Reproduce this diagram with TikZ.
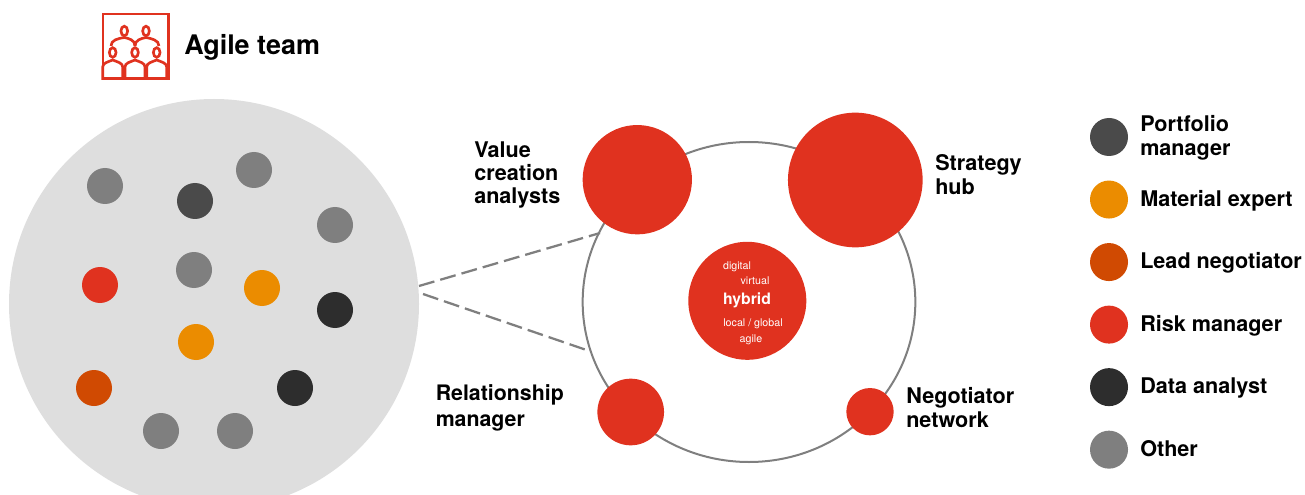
\documentclass[tikz,border=0pt]{standalone}
\usepackage{fontspec}
\setmainfont{TeX Gyre Heros}
\usepackage{tikz}
\usetikzlibrary{shapes.geometric}
\definecolor{hubred}{HTML}{E0321F}
\definecolor{ringgray}{HTML}{7F7F7F}
\definecolor{teamgray}{HTML}{DEDEDE}
\definecolor{portfolio}{HTML}{4A4A4A}
\definecolor{material}{HTML}{EB8C00}
\definecolor{leadneg}{HTML}{D04A02}
\definecolor{analyst}{HTML}{2D2D2D}
\tikzstyle{line} = [draw=ringgray, line width=1.7pt, dash pattern=on 12pt off 4.6pt]
\tikzstyle{ring} = [draw=ringgray, line width=1.5pt, ellipse, inner sep=0pt, minimum width=249.5pt, minimum height=240pt]
\tikzstyle{hub} = [circle, fill=hubred, inner sep=0pt]
\tikzstyle{dot} = [circle, inner sep=0pt, minimum size=27pt]
\tikzstyle{leg} = [circle, inner sep=0pt, minimum size=28.5pt, node distance=46.9pt]
\tikzstyle{lab} = [inner sep=0pt, align=left, font=\fontsize{16.2}{17.6}\selectfont\bfseries]
\tikzstyle{legtxt} = [lab, anchor=west, node distance=23.25pt, yshift=-0.75pt]
\tikzstyle{small} = [inner sep=0pt, text=white, font=\fontsize{8}{9}\selectfont]
\tikzstyle{icon} = [draw=hubred, line width=2pt]
\begin{document}
\begin{tikzpicture}[x=0.75pt, y=-0.75pt]
		\clip (0,0) rectangle (1305,495);
		
		% icon
		\node [icon, rectangle, inner sep=0pt, minimum width=49pt, minimum height=48.5pt] (frame) at (135.5,46.5) {};
		\foreach \x in {124.3,146} {
			\node [icon, ellipse, inner sep=0pt, minimum width=5pt, minimum height=7.2pt] at (\x,31) {};
		}
		\foreach \x in {112.7,135,156.7} {
			\node [icon, ellipse, inner sep=0pt, minimum width=5pt, minimum height=7.2pt] at (\x,52.5) {};
			\draw [icon] (\x-10,80) -- (\x-10,67) .. controls (\x-10,63) and (\x-5,62) .. (\x,60) .. controls (\x+5,62) and (\x+10,63) .. (\x+10,67) -- (\x+10,80);
		}
		\draw [icon] (111,46) .. controls (111,40) and (118,38.5) .. (124.3,37.5) .. controls (129,38.5) and (135,40) .. (135,46);
		\draw [icon] (135,46) .. controls (135,40) and (141,38.5) .. (146,37.5) .. controls (151,38.5) and (159,40) .. (159,46);
		\node [lab, anchor=base west, font=\fontsize{20.2}{22}\selectfont\bfseries] (title) at (184,54.5) {Agile team};
		
		% team
		\node [circle, fill=teamgray, inner sep=0pt, minimum size=307.5pt] (team) at (214,304) {};
		\node [dot, fill=ringgray] (d1) at (105,186) {};
		\node [dot, fill=portfolio] (d2) at (195,201) {};
		\node [dot, fill=ringgray] (d3) at (254,170) {};
		\node [dot, fill=ringgray] (d4) at (335,225) {};
		\node [dot, fill=hubred] (d5) at (100,285) {};
		\node [dot, fill=ringgray] (d6) at (194,270) {};
		\node [dot, fill=material] (d7) at (262,288) {};
		\node [dot, fill=analyst] (d8) at (335,310) {};
		\node [dot, fill=material] (d9) at (196,342) {};
		\node [dot, fill=leadneg] (d10) at (94,388) {};
		\node [dot, fill=analyst] (d11) at (295,388) {};
		\node [dot, fill=ringgray] (d12) at (161,431) {};
		\node [dot, fill=ringgray] (d13) at (235,431) {};
		
		% hubs
		\node [ring] (ring) at (749,302) {};
		\coordinate (zoom1) at (600,233);
		\coordinate (zoom2) at (585,349.5);
		\coordinate (team1) at (419,286);
		\coordinate (team2) at (423,294);
		\path [line] (team1) to (zoom1);
		\path [line] (team2) to (zoom2);
		
		\node [hub, minimum size=82pt] (value) at (637.3,179.7) {};
		\node [hub, minimum size=101pt] (strategy) at (855.3,180) {};
		\node [hub, minimum size=88.5pt] (hybrid) at (747.3,300.8) {};
		\node [hub, minimum size=50pt] (relation) at (630.7,412) {};
		\node [hub, minimum size=35.5pt] (negot) at (870,411.7) {};
		
		\node [lab, anchor=west] (value_l) at (474,175) {Value\\creation\\analysts};
		\node [lab, anchor=west, font=\fontsize{16.2}{18}\selectfont\bfseries] (strategy_l) at (935,175) {Strategy\\hub};
		\node [lab, anchor=west, font=\fontsize{16}{20}\selectfont\bfseries] (relation_l) at (435.5,408) {Relationship\\manager};
		\node [lab, anchor=west, font=\fontsize{16.2}{18}\selectfont\bfseries] (negot_l) at (906,408) {Negotiator\\network};
		
		\node [small] (s1) at (737,267) {digital};
		\node [small] (s2) at (755,281) {virtual};
		\node [small, font=\fontsize{11.8}{13}\selectfont\bfseries] (s3) at (747,300.5) {hybrid};
		\node [small] (s4) at (753,323.5) {local / global};
		\node [small] (s5) at (751,339.5) {agile};
		
		% legend
		\node [leg, fill=portfolio] (leg_1) at (1109,137) {};
		\node [leg, fill=material, below of = leg_1] (leg_2) {};
		\node [leg, fill=leadneg, below of = leg_2] (leg_3) {};
		\node [leg, fill=hubred, below of = leg_3] (leg_4) {};
		\node [leg, fill=analyst, below of = leg_4] (leg_5) {};
		\node [leg, fill=ringgray, below of = leg_5] (leg_6) {};
		
		\node [right of = leg_1, legtxt, font=\fontsize{16.2}{18}\selectfont\bfseries] (txt_1) {Portfolio\\manager};
		\node [right of = leg_2, legtxt] (txt_2) {Material expert};
		\node [right of = leg_3, legtxt] (txt_3) {Lead negotiator};
		\node [right of = leg_4, legtxt] (txt_4) {Risk manager};
		\node [right of = leg_5, legtxt] (txt_5) {Data analyst};
		\node [right of = leg_6, legtxt, yshift=1.5pt] (txt_6) {Other};
\end{tikzpicture}
\end{document}
